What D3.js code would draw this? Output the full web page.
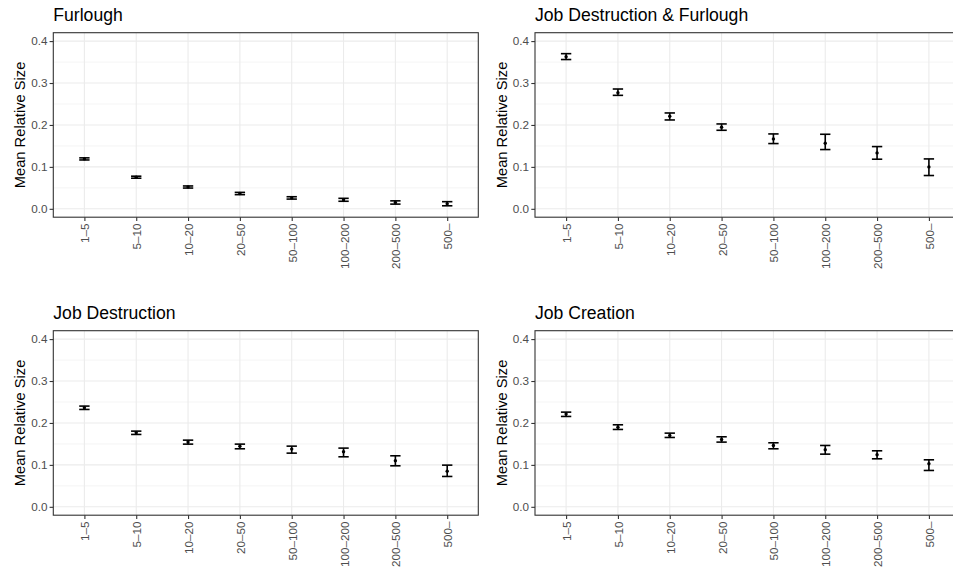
<!DOCTYPE html>
<html>
<head>
<meta charset="utf-8">
<script src="https://cdn.jsdelivr.net/npm/d3@7"></script>
<style>
  html, body { margin: 0; padding: 0; background: #fff; overflow: hidden; }
  svg { display: block; font-family: "Liberation Sans", Arial, Helvetica, sans-serif; }
</style>
</head>
<body>
<svg id="chart" width="953" height="572"></svg>
<script>
// ---- data ----
const categories = ["1–5", "5–10", "10–20", "20–50", "50–100", "100–200", "200–500", "500–"];
const yTicks = [0.0, 0.1, 0.2, 0.3, 0.4];
const yTickLabels = ["0.0", "0.1", "0.2", "0.3", "0.4"];
const yLabel = "Mean Relative Size";

const panelTitles = ["Furlough", "Job Destruction & Furlough", "Job Destruction", "Job Creation"];

const furloughMean  = [0.119, 0.0754, 0.052, 0.0365, 0.026, 0.0214, 0.015, 0.012];
const furloughLower = [0.1165, 0.0730, 0.0495, 0.0338, 0.0232, 0.0180, 0.0112, 0.0072];
const furloughUpper = [0.1215, 0.0778, 0.0545, 0.0392, 0.0288, 0.0250, 0.0190, 0.0170];

const jdfMean  = [0.3627, 0.2770, 0.2206, 0.1944, 0.1667, 0.1563, 0.1333, 0.1000];
const jdfLower = [0.3560, 0.2706, 0.2119, 0.1873, 0.1556, 0.1413, 0.1183, 0.0794];
const jdfUpper = [0.3700, 0.2857, 0.2286, 0.2024, 0.1786, 0.1778, 0.1484, 0.1190];

const jdMean  = [0.2362, 0.1765, 0.1543, 0.1447, 0.1376, 0.1312, 0.1097, 0.0851];
const jdLower = [0.2322, 0.1726, 0.1495, 0.1384, 0.1280, 0.1193, 0.0978, 0.0724];
const jdUpper = [0.2402, 0.1805, 0.1590, 0.1495, 0.1447, 0.1400, 0.1217, 0.0994];

const jcMean  = [0.2211, 0.1900, 0.1702, 0.1606, 0.1463, 0.1360, 0.1240, 0.1026];
const jcLower = [0.2155, 0.1845, 0.1654, 0.1543, 0.1384, 0.1256, 0.1145, 0.0867];
const jcUpper = [0.2258, 0.1956, 0.1757, 0.1670, 0.1527, 0.1463, 0.1336, 0.1121];

const panels = [
  { title: panelTitles[0], mean: furloughMean, lower: furloughLower, upper: furloughUpper, left: 53.3, top: 32.7 },
  { title: panelTitles[1], mean: jdfMean, lower: jdfLower, upper: jdfUpper, left: 535, top: 32.7 },
  { title: panelTitles[2], mean: jdMean, lower: jdLower, upper: jdUpper, left: 53.3, top: 330.7 },
  { title: panelTitles[3], mean: jcMean, lower: jcLower, upper: jcUpper, left: 535, top: 330.7 }
];

// ---- drawing ----
const W = 425, H = 184.5;
const svg = d3.select("#chart");

const x = d3.scalePoint().domain(categories).range([0, W]).padding(0.6);
const y = d3.scaleLinear().domain([-0.02, 0.42]).range([H, 0]);
const minorTicks = [0.05, 0.15, 0.25, 0.35];

panels.forEach(p => {
  const g = svg.append("g").attr("transform", `translate(${p.left},${p.top})`);

  // background + grid
  g.append("rect").attr("width", W).attr("height", H).attr("fill", "#fff");
  g.selectAll(".minor").data(minorTicks).join("line")
    .attr("x1", 0).attr("x2", W).attr("y1", d => y(d)).attr("y2", d => y(d))
    .attr("stroke", "#EBEBEB").attr("stroke-width", 0.55);
  g.selectAll(".majory").data(yTicks).join("line")
    .attr("x1", 0).attr("x2", W).attr("y1", d => y(d)).attr("y2", d => y(d))
    .attr("stroke", "#EBEBEB").attr("stroke-width", 1.1);
  g.selectAll(".majorx").data(categories).join("line")
    .attr("x1", d => x(d)).attr("x2", d => x(d)).attr("y1", 0).attr("y2", H)
    .attr("stroke", "#EBEBEB").attr("stroke-width", 1.1);

  // error bars
  const data = categories.map((c, i) => ({ c, m: p.mean[i], lo: p.lower[i], hi: p.upper[i] }));
  const cap = x.step() * 0.1;
  const eb = g.append("g").attr("stroke", "#000").attr("stroke-width", 1.6).attr("fill", "none");
  eb.selectAll(".v").data(data).join("line")
    .attr("x1", d => x(d.c)).attr("x2", d => x(d.c)).attr("y1", d => y(d.lo)).attr("y2", d => y(d.hi));
  eb.selectAll(".t").data(data).join("line")
    .attr("x1", d => x(d.c) - cap).attr("x2", d => x(d.c) + cap).attr("y1", d => y(d.hi)).attr("y2", d => y(d.hi));
  eb.selectAll(".b").data(data).join("line")
    .attr("x1", d => x(d.c) - cap).attr("x2", d => x(d.c) + cap).attr("y1", d => y(d.lo)).attr("y2", d => y(d.lo));
  g.selectAll(".pt").data(data).join("circle")
    .attr("cx", d => x(d.c)).attr("cy", d => y(d.m)).attr("r", 1.7).attr("fill", "#000");

  // panel border
  g.append("rect").attr("width", W).attr("height", H).attr("fill", "none")
    .attr("stroke", "#333333").attr("stroke-width", 1.1);

  // y axis
  const ya = d3.axisLeft(y).tickValues(yTicks).tickSize(3.7).tickPadding(2.2)
    .tickFormat((d, i) => yTickLabels[i]);
  const yg = g.append("g").call(ya);
  yg.select(".domain").remove();
  yg.selectAll(".tick line").attr("stroke", "#333333").attr("stroke-width", 1.1);
  yg.selectAll(".tick text").attr("fill", "#4D4D4D").style("font-size", "11.7px")
    .style("font-family", "'Liberation Sans', Arial, sans-serif");

  // x axis
  const xa = d3.axisBottom(x).tickSize(3.7).tickPadding(2.2);
  const xg = g.append("g").attr("transform", `translate(0,${H})`).call(xa);
  xg.select(".domain").remove();
  xg.selectAll(".tick line").attr("stroke", "#333333").attr("stroke-width", 1.1);
  xg.selectAll(".tick text")
    .attr("fill", "#4D4D4D").style("font-size", "11.7px")
    .style("font-family", "'Liberation Sans', Arial, sans-serif")
    .attr("text-anchor", "end")
    .attr("dy", null)
    .attr("y", 0).attr("x", 0)
    .attr("dominant-baseline", "central")
    .attr("transform", "translate(0,6.3) rotate(-90)");

  // y title
  g.append("text")
    .attr("transform", `translate(-28.5,${H / 2}) rotate(-90)`)
    .attr("text-anchor", "middle").attr("fill", "#000")
    .style("font-size", "14.7px").text(yLabel);

  // panel title
  g.append("text").attr("x", 0).attr("y", -12)
    .attr("fill", "#000").style("font-size", "17.6px").text(p.title);
});
</script>
</body>
</html>
